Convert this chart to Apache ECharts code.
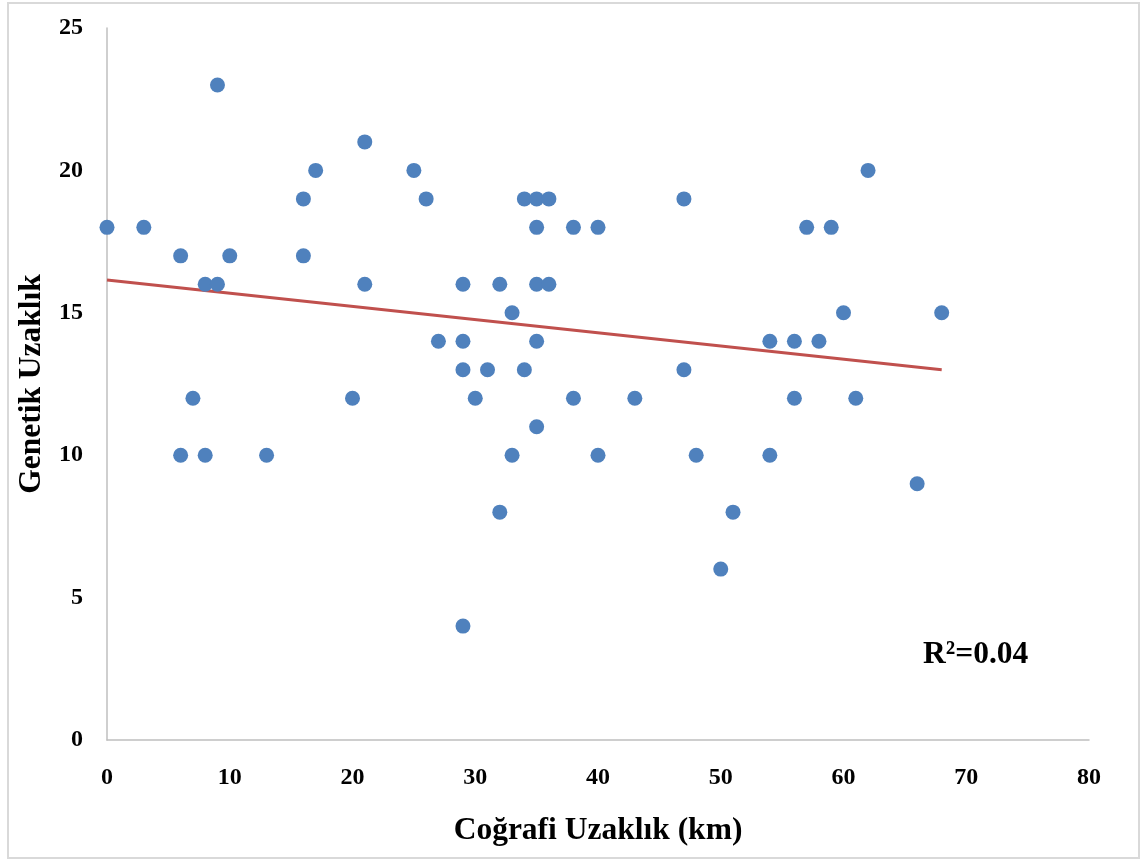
<!DOCTYPE html>
<html>
<head>
    <meta charset="utf-8"/>
    <title>Genetik - Coğrafi Uzaklık</title>
</head>
<body style="margin:0">
<div id="chart" style="width:1148px;height:862px"></div>
<script src="https://cdn.jsdelivr.net/npm/echarts@6/dist/echarts.min.js"></script>
<script type="text/javascript">
    // cografi uzaklik (km) / genetik uzaklik
    var distKm = [0, 3, 6, 6, 7, 8, 8, 9, 9, 10, 13, 16, 16, 17, 20, 21, 21, 25, 26, 27,
        29, 29, 29, 29, 30, 31, 32, 32, 33, 33, 34, 34, 35, 35, 35, 35, 35, 36, 36, 38,
        38, 40, 40, 43, 47, 47, 48, 50, 51, 54, 54, 56, 56, 57, 58, 59, 60, 61, 62, 66, 68];
    var genDist = [18, 18, 17, 10, 12, 16, 10, 16, 23, 17, 10, 19, 17, 20, 12, 21, 16, 20, 19, 14,
        16, 14, 13, 4, 12, 13, 16, 8, 15, 10, 19, 13, 19, 18, 16, 14, 11, 19, 16, 18,
        12, 18, 10, 12, 19, 13, 10, 6, 8, 14, 10, 14, 12, 18, 14, 18, 15, 12, 20, 9, 15];
    // dogrusal egilim cizgisi uclari
    var trendX = [0, 68];
    var trendY = [16.15, 13.0];
    var r2Label = 'R²=0.04';

    var points = distKm.map(function (x, i) { return [x, genDist[i]]; });
    var trend = trendX.map(function (x, i) { return [x, trendY[i]]; });

    var labelFont = {
        fontFamily: 'Liberation Serif',
        fontWeight: 'bold',
        color: '#000'
    };
    var nameFont = {
        fontFamily: 'Liberation Serif',
        fontWeight: 'bold',
        fontSize: 31.5,
        color: '#000'
    };

    var option = {
        animation: false,
        title: {
            text: r2Label,
            left: 918,
            top: 634,
            textStyle: nameFont
        },
        graphic: [{
            type: 'rect',
            shape: {x: 8, y: 3, width: 1131, height: 855},
            style: {fill: 'none', stroke: '#d9d9d9', lineWidth: 2}
        }],
        grid: {
            left: 107,
            top: 28,
            right: 59,
            bottom: 122
        },
        xAxis: {
            type: 'value',
            min: 0,
            max: 80,
            interval: 10,
            name: 'Coğrafi Uzaklık (km)',
            nameLocation: 'middle',
            nameGap: 75,
            nameTextStyle: nameFont,
            axisLine: {lineStyle: {color: '#bfbfbf', width: 1.5}},
            axisTick: {show: false},
            splitLine: {show: false},
            axisLabel: Object.assign({fontSize: 24, margin: 26}, labelFont)
        },
        yAxis: {
            type: 'value',
            min: 0,
            max: 25,
            interval: 5,
            name: 'Genetik Uzaklık',
            nameLocation: 'middle',
            nameGap: 56,
            nameRotate: 90,
            nameTextStyle: nameFont,
            axisLine: {show: true, lineStyle: {color: '#bfbfbf', width: 1.5}},
            axisTick: {show: false},
            splitLine: {show: false},
            axisLabel: Object.assign({fontSize: 24, margin: 24}, labelFont)
        },
        series: [{
            name: 'Genetik Uzaklık',
            type: 'scatter',
            data: points,
            symbolSize: 15,
            itemStyle: {color: '#4f81bd', opacity: 1},
            z: 3
        }, {
            name: 'Eğilim',
            type: 'line',
            data: trend,
            symbol: 'none',
            lineStyle: {color: '#c0504d', width: 3},
            z: 2
        }]
    };

    var chart = echarts.init(document.getElementById('chart'));
    chart.setOption(option);
</script>
</body>
</html>
